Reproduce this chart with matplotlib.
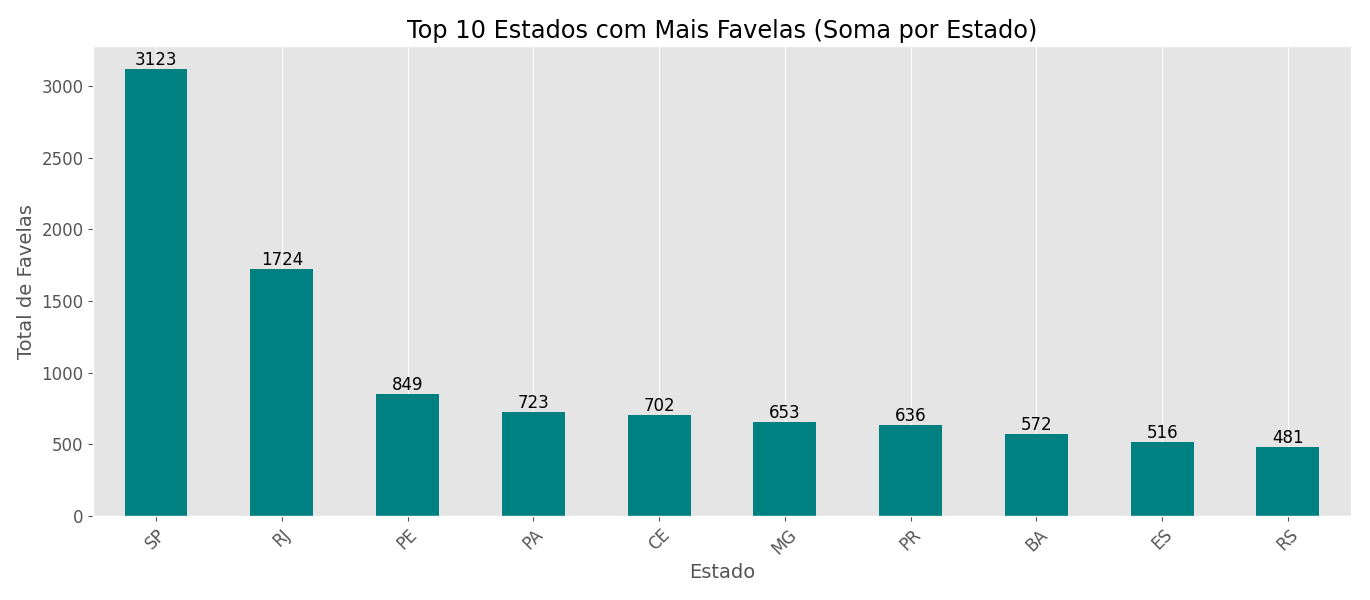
import matplotlib
matplotlib.use("Agg")
import matplotlib.pyplot as plt

estados = ["SP", "RJ", "PE", "PA", "CE", "MG", "PR", "BA", "ES", "RS"]
totais = [3123, 1724, 849, 723, 702, 653, 636, 572, 516, 481]

plt.style.use("ggplot")
fig, ax = plt.subplots(figsize=(13.7, 6), dpi=100)
x = list(range(len(estados)))
bars = ax.bar(x, totais, width=0.5, color="teal")
ax.set_xticks(x)
ax.set_xticklabels(estados, rotation=45, fontsize=12)
ax.tick_params(axis="y", labelsize=12)
ax.set_xlim(-0.5, len(estados) - 0.5)
ax.grid(False)
ax.grid(axis="x", color="white")
ax.set_axisbelow(True)
ax.set_title("Top 10 Estados com Mais Favelas (Soma por Estado)", fontsize=17.3)
ax.set_xlabel("Estado", fontsize=14)
ax.set_ylabel("Total de Favelas", fontsize=14)
ax.bar_label(bars, labels=[str(v) for v in totais], fontsize=12, color="black")
fig.subplots_adjust(left=0.068, right=0.986, top=0.923, bottom=0.14)
fig.savefig("out.png")
